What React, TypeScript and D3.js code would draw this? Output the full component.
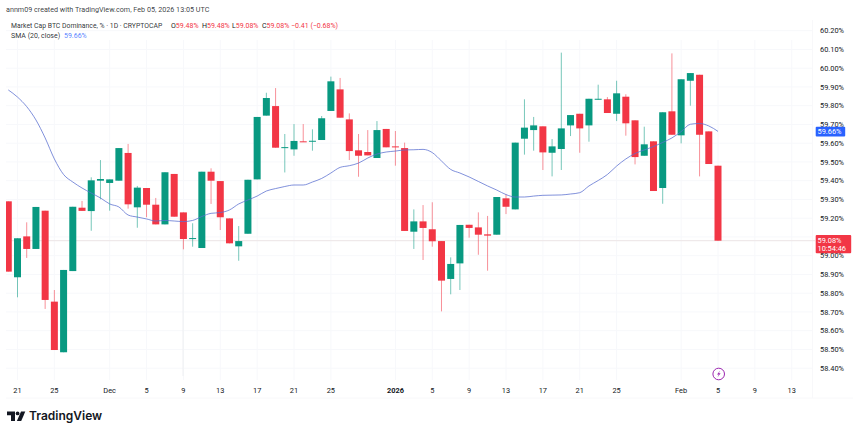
import React from 'react';
import * as d3 from 'd3';

const firstDay = Date.UTC(2025, 10, 20); // Nov 20, one candle per day

const opens = [59.29, 58.885, 59.103, 59.036, 59.24, 58.755, 58.485, 58.918, 59.256, 59.238, 59.4, 59.388, 59.4, 59.548, 59.258, 59.361, 59.272, 59.167, 59.436, 59.231, 59.089, 59.041, 59.448, 59.398, 59.199, 59.05, 59.117, 59.407, 59.747, 59.798, 59.576, 59.567, 59.61, 59.61, 59.617, 59.772, 59.887, 59.727, 59.562, 59.553, 59.521, 59.676, 59.583, 59.574, 59.128, 59.183, 59.141, 59.078, 58.876, 58.959, 59.165, 59.151, 59.114, 59.112, 59.306, 59.247, 59.624, 59.67, 59.69, 59.549, 59.569, 59.695, 59.757, 59.695, 59.832, 59.834, 59.757, 59.848, 59.722, 59.533, 59.61, 59.361, 59.77, 59.642, 59.933, 59.965, 59.663, 59.48];
const highs = [59.29, 59.093, 59.178, 59.26, 59.24, 58.817, 58.924, 59.261, 59.292, 59.418, 59.51, 59.407, 59.574, 59.596, 59.372, 59.361, 59.308, 59.445, 59.436, 59.231, 59.173, 59.448, 59.466, 59.398, 59.199, 59.158, 59.405, 59.74, 59.869, 59.894, 59.649, 59.702, 59.702, 59.674, 59.745, 59.955, 59.948, 59.759, 59.649, 59.67, 59.718, 59.676, 59.665, 59.603, 59.247, 59.27, 59.285, 59.078, 58.991, 59.164, 59.165, 59.231, 59.212, 59.313, 59.327, 59.603, 59.834, 59.74, 59.69, 59.622, 60.083, 59.75, 59.757, 59.837, 59.912, 59.846, 59.933, 59.861, 59.722, 59.688, 59.61, 59.765, 60.079, 59.941, 59.974, 59.965, 59.663, 59.48];
const lows = [58.915, 58.778, 58.988, 59.036, 58.716, 58.497, 58.485, 58.918, 59.239, 59.133, 59.301, 59.24, 59.4, 59.251, 59.149, 59.205, 59.167, 59.167, 59.208, 59.034, 59.048, 59.041, 59.276, 59.137, 59.066, 58.973, 59.117, 59.407, 59.747, 59.576, 59.444, 59.533, 59.607, 59.56, 59.617, 59.772, 59.736, 59.51, 59.421, 59.535, 59.521, 59.578, 59.48, 59.132, 59.036, 58.977, 59.048, 58.703, 58.794, 58.817, 59.096, 59.005, 58.92, 59.112, 59.222, 59.247, 59.539, 59.56, 59.457, 59.423, 59.457, 59.638, 59.549, 59.608, 59.832, 59.761, 59.718, 59.64, 59.487, 59.533, 59.345, 59.277, 59.645, 59.599, 59.8, 59.423, 59.489, 59.08];
const closes = [58.915, 59.093, 59.036, 59.26, 58.764, 58.497, 58.924, 59.261, 59.239, 59.402, 59.409, 59.407, 59.574, 59.274, 59.363, 59.272, 59.167, 59.445, 59.208, 59.089, 59.094, 59.448, 59.4, 59.205, 59.066, 59.078, 59.405, 59.74, 59.841, 59.576, 59.579, 59.612, 59.607, 59.613, 59.733, 59.93, 59.736, 59.558, 59.533, 59.535, 59.67, 59.578, 59.578, 59.132, 59.183, 59.148, 59.077, 58.867, 58.956, 59.164, 59.148, 59.112, 59.107, 59.313, 59.261, 59.603, 59.683, 59.695, 59.551, 59.583, 59.679, 59.75, 59.679, 59.837, 59.837, 59.761, 59.866, 59.706, 59.526, 59.594, 59.345, 59.765, 59.645, 59.941, 59.974, 59.645, 59.489, 59.08];
const sma = [59.884, 59.846, 59.795, 59.724, 59.628, 59.516, 59.433, 59.393, 59.361, 59.334, 59.308, 59.276, 59.26, 59.217, 59.206, 59.196, 59.185, 59.188, 59.185, 59.182, 59.188, 59.209, 59.226, 59.23, 59.244, 59.276, 59.297, 59.318, 59.345, 59.358, 59.369, 59.377, 59.377, 59.393, 59.412, 59.441, 59.471, 59.48, 59.494, 59.521, 59.542, 59.553, 59.558, 59.564, 59.565, 59.567, 59.55, 59.505, 59.46, 59.441, 59.42, 59.396, 59.372, 59.35, 59.326, 59.313, 59.313, 59.318, 59.322, 59.323, 59.324, 59.329, 59.336, 59.372, 59.401, 59.433, 59.478, 59.516, 59.545, 59.564, 59.582, 59.604, 59.628, 59.662, 59.701, 59.705, 59.692, 59.663];

const priceTicks = [60.2, 60.1, 60.0, 59.9, 59.8, 59.7, 59.6, 59.5, 59.4, 59.3, 59.2, 59.1, 59.0, 58.9, 58.8, 58.7, 58.6, 58.5, 58.4];
const timeTicks: [number, number, number, string][] = [
  [2025, 10, 21, '21'], [2025, 10, 25, '25'], [2025, 11, 1, 'Dec'], [2025, 11, 5, '5'],
  [2025, 11, 9, '9'], [2025, 11, 13, '13'], [2025, 11, 17, '17'], [2025, 11, 21, '21'],
  [2025, 11, 25, '25'], [2026, 0, 1, '2026'], [2026, 0, 5, '5'], [2026, 0, 9, '9'],
  [2026, 0, 13, '13'], [2026, 0, 17, '17'], [2026, 0, 21, '21'], [2026, 0, 25, '25'],
  [2026, 1, 1, 'Feb'], [2026, 1, 5, '5'], [2026, 1, 9, '9'], [2026, 1, 13, '13'],
];
const legendOhlc: [string, string, number][] = [
  ['O', '59.48%', 171], ['H', '59.48%', 202], ['L', '59.08%', 232], ['C', '59.08%', 262],
];

const UP = '#089981';
const DOWN = '#f23645';
const BLUE = '#2962ff';
const INK = '#131722';
const FONT = 'Roboto, "Liberation Sans", sans-serif';
const width = 860;
const height = 434;

const x = d3.scaleUtc()
  .domain([Date.UTC(2025, 10, 21), Date.UTC(2026, 1, 5)])
  .range([17.5, 718]);
const y = d3.scaleLinear().domain([60.2, 58.4]).range([30.7, 368.2]);
const dayX = (i: number) => x(d3.utcDay.offset(new Date(firstDay), i));

const smaLine = d3.line<number>().x((_, i) => dayX(i)).y(d => y(d)).curve(d3.curveMonotoneX);

const App: React.FC = () => (
  <svg width={width} height={height} style={{ display: 'block', position: 'absolute', left: 0, top: 0, background: '#fff' }} fontFamily={FONT}>
    <defs>
      <clipPath id="pane"><rect x={6} y={40} width={806} height={340} /></clipPath>
    </defs>

    {/* grid */}
    {timeTicks.map(([yr, mo, d]) => (
      <line key={`${yr}-${mo}-${d}`} x1={x(Date.UTC(yr, mo, d))} x2={x(Date.UTC(yr, mo, d))} y1={40} y2={380} stroke="#f7f8fb" />
    ))}
    {priceTicks.map(p => (
      <line key={p} x1={6} x2={812} y1={y(p)} y2={y(p)} stroke="#f7f8fb" />
    ))}
    <line x1={183} x2={183} y1={240} y2={376} stroke="#eeeff2" />
    <line x1={812.5} x2={812.5} y1={20} y2={398} stroke="#f8f8fa" />
    <line x1={6} x2={853} y1={398} y2={398} stroke="#f8f8fa" />

    {/* last price line */}
    <line x1={6} x2={815} y1={y(closes[closes.length - 1])} y2={y(closes[closes.length - 1])} stroke="#efe9ea" strokeWidth={1.2} />

    <g clipPath="url(#pane)">
      {opens.map((o, i) => {
        const c = closes[i];
        const col = c >= o ? UP : DOWN;
        const cx = dayX(i);
        const top = y(Math.max(o, c));
        const bot = y(Math.min(o, c));
        return (
          <g key={i}>
            <line x1={cx} x2={cx} y1={y(highs[i])} y2={y(lows[i])} stroke={col} strokeOpacity={0.55} strokeWidth={1} />
            <rect x={cx - 3.5} y={top} width={7} height={Math.max(bot - top, 1)} fill={col} />
          </g>
        );
      })}
      <path d={smaLine(sma) || ''} fill="none" stroke="#5a6fd0" strokeOpacity={0.85} strokeWidth={0.9} />
    </g>

    {/* price axis */}
    {priceTicks.map(p => (
      <text key={p} x={820} y={y(p)} dy="0.35em" fontSize={7.4} fill={INK}>{p.toFixed(2)}%</text>
    ))}
    <rect x={815.7} y={126.7} width={29.5} height={9.8} rx={1} fill={BLUE} />
    <text x={817.5} y={y(sma[sma.length - 1])} dy="0.35em" fontSize={7.4} fill="#fff">59.66%</text>
    <rect x={815.7} y={235} width={35.5} height={18.3} rx={1} fill={DOWN} />
    <text x={817.5} y={240} dy="0.35em" fontSize={7.4} fill="#fff">59.08%</text>
    <text x={817.5} y={248.5} dy="0.35em" fontSize={7.4} fill="#fff">10:54:46</text>

    {/* time axis */}
    {timeTicks.map(([yr, mo, d, label]) => (
      <text key={`${yr}-${mo}-${d}`} x={x(Date.UTC(yr, mo, d))} y={390} dy="0.35em" textAnchor="middle" fontSize={7.4}
        fontWeight={label === '2026' ? 700 : 400} fill={INK}>{label}</text>
    ))}

    {/* header */}
    <text x={6} y={9.5} dy="0.35em" fontSize={7.2} fill={INK} fillOpacity={0.85}>annm09 created with TradingView.com, Feb 05, 2026 13:05 UTC</text>
    <text x={11} y={25.5} dy="0.35em" fontSize={6.85} fill={INK} fillOpacity={0.9}>Market Cap BTC Dominance, % · 1D · CRYPTOCAP</text>
    {legendOhlc.map(([k, v, px]) => (
      <text key={k} x={px} y={25.5} dy="0.35em" fontSize={7} fill={INK}>{k}<tspan fill={DOWN}>{v}</tspan></text>
    ))}
    <text x={291} y={25.5} dy="0.35em" fontSize={7} fill={DOWN}>−0.41 (−0.68%)</text>
    <text x={11} y={35.5} dy="0.35em" fontSize={7} fill={INK} fillOpacity={0.9}>SMA (20, close)</text>
    <text x={64} y={35.5} dy="0.35em" fontSize={7} fill={BLUE} fillOpacity={0.8}>59.66%</text>

    {/* event marker on the time scale */}
    <circle cx={718.7} cy={374} r={5.8} fill="#fff" stroke="#9c27b0" strokeWidth={1} />
    <path d="M720.2 370.4 L717 374.6 L718.8 374.6 L717.4 377.6 L720.6 373.3 L718.8 373.3 Z" fill="#9c27b0" />

    {/* TradingView logo */}
    <g fill={INK}>
      <path d="M7 411.5 H15 V421 H11 V415.3 H7 Z" />
      <circle cx={17.6} cy={413.4} r={1.9} />
      <path d="M21 411.5 H25.3 L21.2 421 H16.9 Z" />
    </g>
    <text x={29} y={416} dy="0.35em" fontSize={12} fontWeight={600} fontFamily='Inter, Roboto, sans-serif' fill={INK}>TradingView</text>
  </svg>
);

export default App;
